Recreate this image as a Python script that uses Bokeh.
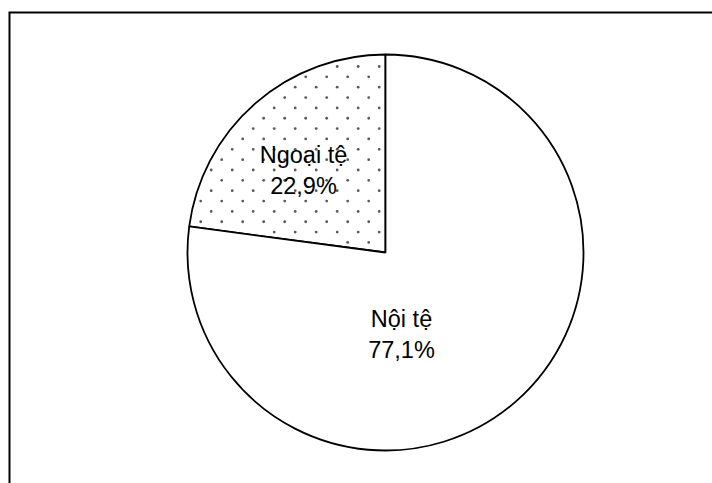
import math

from bokeh.core.properties import value
from bokeh.embed import file_html
from bokeh.models import ColumnDataSource, Range1d
from bokeh.plotting import figure
from bokeh.resources import INLINE

# Currency structure (share of total, %)
categories = ["Ngoại tệ", "Nội tệ"]
shares = [22.9, 77.1]
dotted = [True, False]  # which slice gets the dotted fill

# Layout, in screen-like units (1 unit = 1 px, y up)
W, H = 712, 483
CX, CY, R = 385, 231, 198
# text anchor of each slice label (name line baseline), relative to pie centre
label_dx = [-82, 16]
label_dy = [98, -66]
LINE_GAP = 31

# slices start at 12 o'clock and run counter-clockwise
starts, ends = [], []
a = math.pi / 2
for s in shares:
    starts.append(a)
    a += 2 * math.pi * s / 100.0
    ends.append(a)

pie = ColumnDataSource(dict(cat=categories, share=shares, start=starts, end=ends))


def dot_texture(start, end, dx=21.0, dy=10.35, x0=336.7, y0=417.0, inset=3.0):
    """Staggered dot fill pattern, kept inside one wedge."""
    xs, ys = [], []
    span = end - start
    rows = int(2 * R / dy) + 4
    cols = int(2 * R / dx) + 4
    for j in range(-rows, rows + 1):
        y = y0 + j * dy
        shift = (j % 2) * dx / 2
        for i in range(-cols, cols + 1):
            x = x0 + shift + i * dx
            rx, ry = x - CX, y - CY
            dist = math.hypot(rx, ry)
            if dist > R - inset or dist < inset:
                continue
            ang = (math.atan2(ry, rx) - start) % (2 * math.pi)
            if ang > span:
                continue
            # keep clear of the radial edges
            d1 = abs(-math.sin(start) * rx + math.cos(start) * ry)
            d2 = abs(-math.sin(end) * rx + math.cos(end) * ry)
            if min(d1, d2) < inset:
                continue
            xs.append(x)
            ys.append(y)
    return xs, ys


tex_x, tex_y = [], []
for s, e, d in zip(starts, ends, dotted):
    if d:
        tx, ty = dot_texture(s, e)
        tex_x += tx
        tex_y += ty

p = figure(width=W, height=H, x_range=Range1d(0, W), y_range=Range1d(0, H),
           output_backend="svg", toolbar_location=None, min_border=0,
           background_fill_color="white", border_fill_color="white")
p.axis.visible = False
p.grid.visible = False
p.outline_line_color = None

# chart-area border (top and left edges)
p.line(x=[9, 9, W + 5], y=[-5, H - 12, H - 12], line_color="black",
       line_width=2, line_join="miter")

# slices
p.wedge(x=CX, y=CY, radius=R, start_angle="start", end_angle="end",
        source=pie, fill_color="white", line_color="black", line_width=1.8)

# dotted fill of the foreign-currency slice
p.scatter(x=tex_x, y=tex_y, marker="circle", size=2.8,
          fill_color="#5a5a5a", line_color=None)

names = ColumnDataSource(dict(
    x=[CX + d for d in label_dx],
    y=[CY + d for d in label_dy],
    text=categories,
))
pcts = ColumnDataSource(dict(
    x=[CX + d for d in label_dx],
    y=[CY + d - LINE_GAP for d in label_dy],
    text=[f"{s:.1f}".replace(".", ",") + "%" for s in shares],
))
for src in (names, pcts):
    p.text(x="x", y="y", text="text", source=src, text_align="center",
           text_baseline="alphabetic", text_color="black",
           text_font=value("Liberation Sans"), text_font_size="23.5px")

open("out.html", "w").write(file_html(p, INLINE))
